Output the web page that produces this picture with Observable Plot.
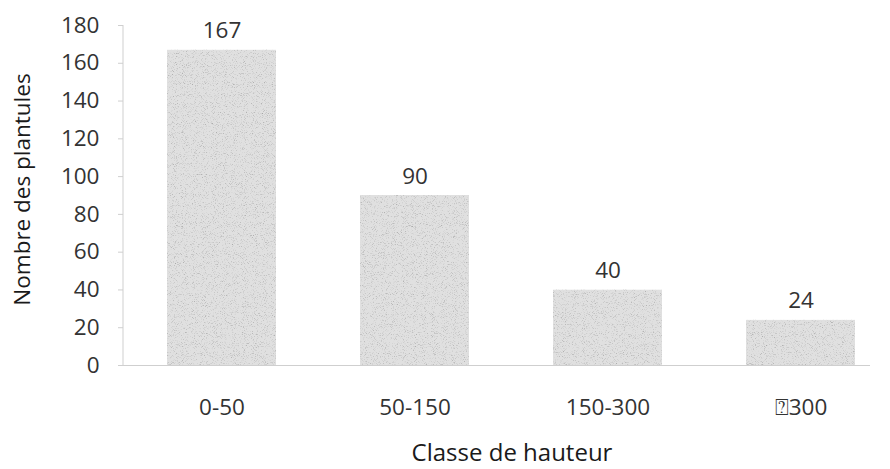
<!DOCTYPE html>
<html>
<head>
<meta charset="utf-8">
<script src="https://cdn.jsdelivr.net/npm/d3@7"></script>
<script src="https://cdn.jsdelivr.net/npm/@observablehq/plot@0.6"></script>
<style>
  html, body { margin: 0; padding: 0; background: #fff; }
  #chart svg { display: block; }
</style>
</head>
<body>
<div id="chart"></div>
<script>
// Nombre de plantules par classe de hauteur
const classes = ["0-50", "50-150", "150-300", "\u2370300"];
const plantules = [167, 90, 40, 24];
const yTicks = [0, 20, 40, 60, 80, 100, 120, 140, 160, 180];
const xTitle = "Classe de hauteur";
const yTitle = "Nombre des plantules";

const data = classes.map((c, i) => ({classe: c, n: plantules[i]}));

const ink = "#333";
const titleInk = "#1a1a1a";
const axisGray = "#cfcfcf";
const fs = 22.5;

const chart = Plot.plot({
  width: 890,
  height: 469,
  marginTop: 25,
  marginLeft: 123,
  marginRight: 20,
  marginBottom: 104,
  style: {fontFamily: "'Open Sans', sans-serif", fontSize: `${fs}px`, color: ink, background: "#fff"},
  x: {domain: classes, range: [123, 899.5], paddingInner: 0.437, paddingOuter: 0.225},
  y: {domain: [0, 180]},
  marks: [
    Plot.barY(data, {x: "classe", y: "n", fill: "#e0e0e0"}),
    Plot.ruleY([0], {stroke: axisGray, strokeWidth: 1.2}),
    Plot.axisY({ticks: yTicks, tickSize: 5, tickPadding: 19, stroke: axisGray, fill: ink, fontSize: fs, label: null}),
    Plot.axisX({tickSize: 0, tickPadding: 34, fill: ink, fontSize: fs, label: null}),
    Plot.text(data, {x: "classe", y: "n", text: d => String(d.n), dy: -19, lineAnchor: "middle", fill: ink, fontSize: fs}),
    Plot.text([xTitle], {frameAnchor: "bottom", textAnchor: "middle", dx: 15, dy: 95, fill: titleInk, fontSize: 24}),
    Plot.text([yTitle], {frameAnchor: "left", textAnchor: "middle", dx: -101, dy: -6, rotate: -90, fill: titleInk, fontSize: fs})
  ]
});

// vertical axis line along the left edge of the frame
const ys = chart.scale("y");
const svg = d3.select(chart);
svg.append("line")
  .attr("x1", 123).attr("x2", 123)
  .attr("y1", ys.apply(180)).attr("y2", ys.apply(0))
  .attr("stroke", axisGray).attr("stroke-width", 1);

// fine grain on the bars
const defs = svg.insert("defs", ":first-child");
const f = defs.append("filter").attr("id", "grain")
  .attr("x", 0).attr("y", 0).attr("width", 1).attr("height", 1);
f.append("feTurbulence").attr("type", "fractalNoise").attr("baseFrequency", 1.1)
  .attr("numOctaves", 2).attr("seed", 7).attr("result", "noise");
f.append("feColorMatrix").attr("in", "noise").attr("type", "matrix")
  .attr("values", "1.3 0 0 0 0.4  1.3 0 0 0 0.4  1.3 0 0 0 0.4  0 0 0 0 1")
  .attr("result", "tone");
f.append("feBlend").attr("in", "SourceGraphic").attr("in2", "tone").attr("mode", "multiply").attr("result", "mix");
f.append("feComposite").attr("in", "mix").attr("in2", "SourceGraphic").attr("operator", "in");
svg.selectAll("g[aria-label='bar'] rect").attr("filter", "url(#grain)");

document.getElementById("chart").append(chart);
</script>
</body>
</html>
